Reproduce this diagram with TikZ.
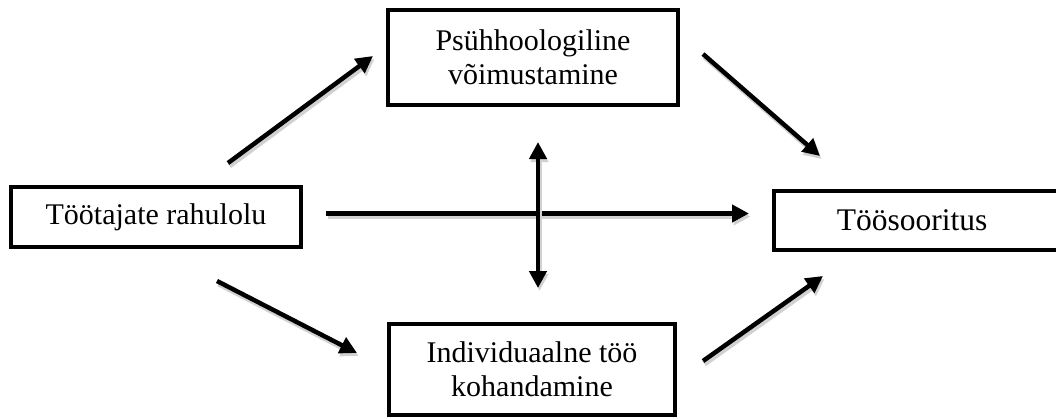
\documentclass[tikz,border=0pt]{standalone}
\usepackage{fontspec}
\setmainfont{Liberation Serif}
\usetikzlibrary{arrows.meta}
\begin{document}
\begin{tikzpicture}[x=1pt,y=-1pt,
  box/.style={draw=black,line width=4pt,fill=white,inner sep=0pt,align=center,
    font=\fontsize{30}{34}\selectfont},
  tip/.style={Triangle[length=17pt,width=17pt]},
  shadowed/.style={preaction={draw=black!18,line width=5pt,transform canvas={shift={(1.5pt,-3pt)}}}},
  arr/.style={shadowed,line width=4.5pt,-{Triangle[length=17pt,width=17pt]}},
  darr/.style={shadowed,line width=4.5pt,{Triangle[length=17pt,width=17pt]}-{Triangle[length=17pt,width=17pt]}}]
\useasboundingbox (0,0) rectangle (1056,418);
\clip (0,0) rectangle (1056,418);
\node[box,minimum width=290pt,minimum height=95pt] (psy) at (533,57) {Psühhoologiline\\võimustamine};
\node[box,minimum width=286pt,minimum height=91pt] (ind) at (532,369) {Individuaalne töö\\kohandamine};
\node[box,minimum width=290pt,minimum height=60pt] (sat) at (156,217) {Töötajate rahulolu};
\node[box,minimum width=296pt,minimum height=59pt,text width=250pt] (perf) at (922,220.5) {\hspace*{-20pt}\fontsize{31.5}{34}\selectfont Töösooritus};
\coordinate (a1s) at (228,163);
\coordinate (a1e) at (373,56);
\coordinate (a2s) at (703,54);
\coordinate (a2e) at (820,156);
\coordinate (a3s) at (326,213.5);
\coordinate (a3e) at (749,213.5);
\coordinate (a4s) at (538,142);
\coordinate (a4e) at (538,288);
\coordinate (a5s) at (217,281);
\coordinate (a5e) at (357,353);
\coordinate (a6s) at (703,361);
\coordinate (a6e) at (823,276);
\draw[arr] (a1s) -- (a1e);
\draw[arr] (a2s) -- (a2e);
\draw[arr] (a3s) -- (a3e);
\draw[darr] (a4s) -- (a4e);
\draw[arr] (a5s) -- (a5e);
\draw[arr] (a6s) -- (a6e);
\end{tikzpicture}
\end{document}
